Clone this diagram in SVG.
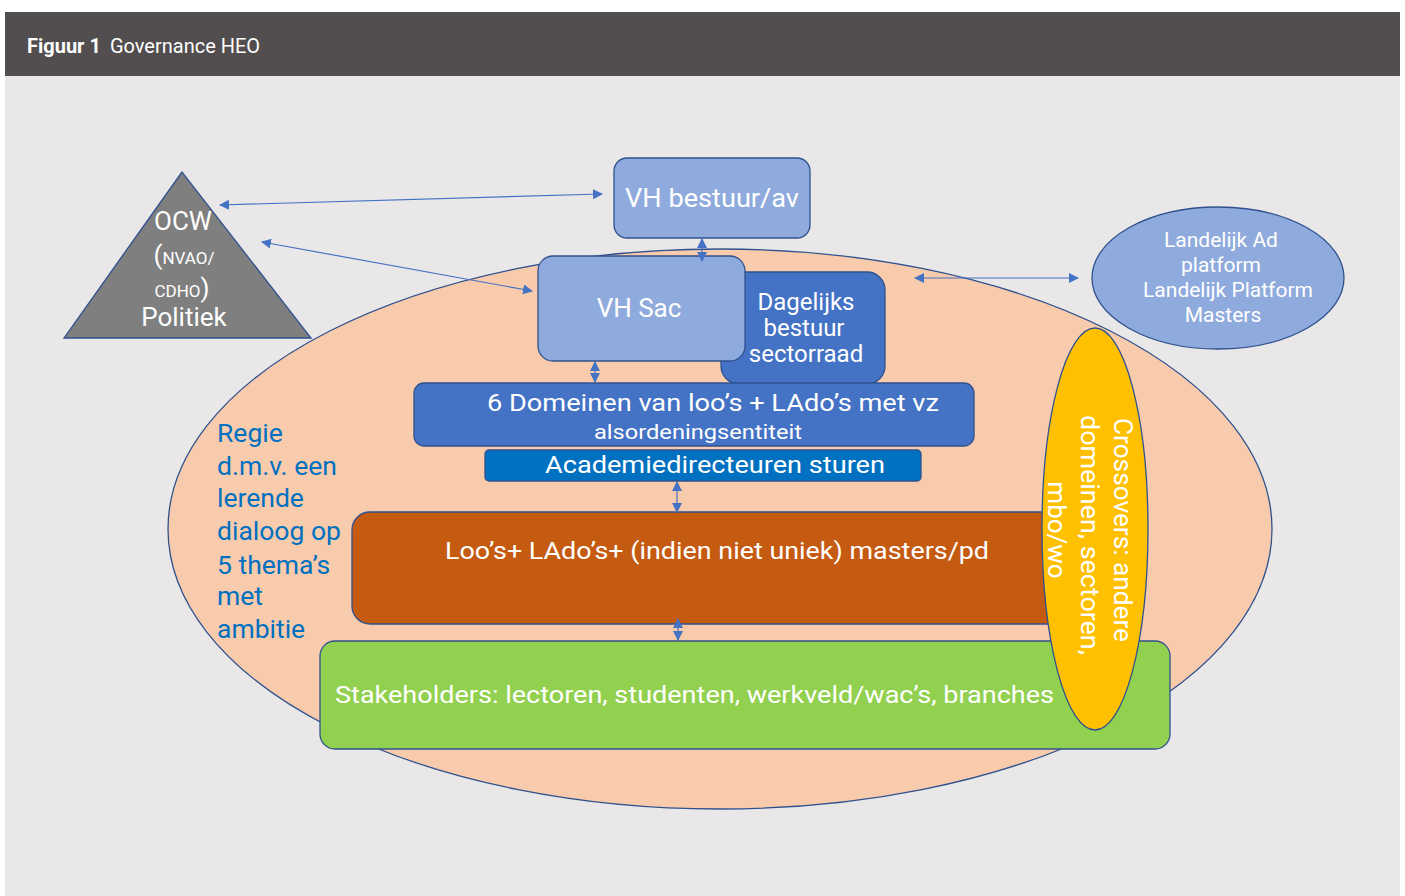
<svg xmlns="http://www.w3.org/2000/svg" width="1405" height="896" viewBox="0 0 1405 896">
<defs>
<marker id="ah" viewBox="0 0 10 10" refX="9" refY="5" markerWidth="10" markerHeight="10" markerUnits="userSpaceOnUse" orient="auto-start-reverse">
<path d="M0,0 L10,5 L0,10 z" fill="#4472c4"/>
</marker>
<style>
text{font-family:Roboto,"Liberation Sans",sans-serif;fill:#ffffff}
.node{stroke:#2f528f;stroke-width:1.3}
.conn{stroke:#4472c4;stroke-width:1.2;fill:none;marker-start:url(#ah);marker-end:url(#ah)}
.w26{font-size:26px}
.w24{font-size:24px}
.w21{font-size:21px}
.regie{fill:#0070c0;font-size:26.5px}
</style>
</defs>
<rect x="0" y="0" width="1405" height="896" fill="#ffffff"/>
<rect x="5" y="76" width="1395" height="820" fill="#e9e7e7"/>
<rect x="5" y="12" width="1395" height="64" fill="#524d4e"/>
<text x="27" y="53" font-size="20"><tspan font-weight="bold">Figuur 1</tspan><tspan dx="9">Governance HEO</tspan></text>

<g id="big-ellipse">
<ellipse class="node" cx="720" cy="529" rx="552" ry="280" fill="#f8cbad"/>
</g>

<g id="ocw">
<polygon class="node" points="182,172 64,338 311,338" fill="#7f7f7f"/>
<text x="183" y="230" class="w26" text-anchor="middle">OCW</text>
<text x="184" y="264" text-anchor="middle"><tspan font-size="26">(</tspan><tspan font-size="17">NVAO/</tspan></text>
<text x="182" y="297" text-anchor="middle"><tspan font-size="17">CDHO</tspan><tspan font-size="26">)</tspan></text>
<text x="184" y="326" class="w26" text-anchor="middle">Politiek</text>
</g>

<g id="vh-bestuur">
<rect class="node" x="614" y="158" width="196" height="80" rx="13" fill="#8faadc"/>
<text x="712" y="207" class="w26" text-anchor="middle" textLength="174" lengthAdjust="spacingAndGlyphs">VH bestuur/av</text>
</g>

<g id="landelijk">
<ellipse class="node" cx="1218" cy="278" rx="126" ry="71" fill="#8faadc"/>
<text x="1221" y="247" class="w21" text-anchor="middle">Landelijk Ad</text>
<text x="1221" y="272" class="w21" text-anchor="middle">platform</text>
<text x="1228" y="297" class="w21" text-anchor="middle">Landelijk Platform</text>
<text x="1223" y="322" class="w21" text-anchor="middle">Masters</text>
</g>

<g id="dagelijks">
<rect class="node" x="721" y="272" width="164" height="112" rx="18" fill="#4472c4"/>
<text x="806" y="310" class="w24" text-anchor="middle">Dagelijks</text>
<text x="804" y="336" class="w24" text-anchor="middle">bestuur</text>
<text x="806" y="362" class="w24" text-anchor="middle">sectorraad</text>
</g>

<g id="vh-sac">
<rect class="node" x="538" y="256" width="207" height="105" rx="15" fill="#8faadc"/>
<text x="639" y="317" class="w26" text-anchor="middle">VH Sac</text>
</g>

<g id="domeinen">
<rect class="node" x="414" y="383" width="560" height="63" rx="10" fill="#4472c4"/>
<text x="713" y="411" class="w24" text-anchor="middle" textLength="452" lengthAdjust="spacingAndGlyphs">6 Domeinen van loo’s + LAdo’s met vz</text>
<text x="698" y="439" font-size="20" text-anchor="middle" textLength="208" lengthAdjust="spacingAndGlyphs">alsordeningsentiteit</text>
</g>

<g id="academie">
<rect class="node" x="485" y="450" width="436" height="31" rx="4" fill="#0070c0"/>
<text x="715" y="473" class="w24" text-anchor="middle" textLength="340" lengthAdjust="spacingAndGlyphs">Academiedirecteuren sturen</text>
</g>

<g id="loos">
<rect class="node" x="352" y="512" width="720" height="112" rx="18" fill="#c55a11"/>
<text x="717" y="559" class="w24" text-anchor="middle" textLength="544" lengthAdjust="spacingAndGlyphs">Loo’s+ LAdo’s+ (indien niet uniek) masters/pd</text>
</g>

<g id="stakeholders">
<rect class="node" x="320" y="641" width="850" height="108" rx="15" fill="#92d050"/>
<text x="335" y="703" class="w24" textLength="719" lengthAdjust="spacingAndGlyphs">Stakeholders: lectoren, studenten, werkveld/wac’s, branches</text>
</g>

<g id="crossovers">
<ellipse class="node" cx="1095" cy="529" rx="53" ry="201" fill="#ffc000"/>
<text transform="translate(1114,530) rotate(90)" font-size="26" text-anchor="middle" textLength="224" lengthAdjust="spacingAndGlyphs">Crossovers: andere</text>
<text transform="translate(1081,535) rotate(90)" font-size="26" text-anchor="middle" textLength="240" lengthAdjust="spacingAndGlyphs">domeinen, sectoren,</text>
<text transform="translate(1048,530) rotate(90)" font-size="26" text-anchor="middle">mbo/wo</text>
</g>

<g id="regie">
<text class="regie" x="217" y="442">Regie</text>
<text class="regie" x="217" y="475">d.m.v. een</text>
<text class="regie" x="217" y="507">lerende</text>
<text class="regie" x="217" y="540">dialoog op</text>
<text class="regie" x="217" y="574">5 thema’s</text>
<text class="regie" x="217" y="605">met</text>
<text class="regie" x="217" y="638">ambitie</text>
</g>

<g id="connectors">
<line class="conn" x1="220" y1="205" x2="602" y2="194"/>
<line class="conn" x1="262" y1="242" x2="532" y2="291"/>
<line class="conn" x1="702" y1="239" x2="702" y2="261"/>
<line class="conn" x1="915" y1="278" x2="1078" y2="278"/>
<line class="conn" x1="595" y1="362" x2="595" y2="382"/>
<line class="conn" x1="677" y1="482" x2="677" y2="512"/>
<line class="conn" x1="678" y1="619" x2="678" y2="640"/>
</g>
</svg>
